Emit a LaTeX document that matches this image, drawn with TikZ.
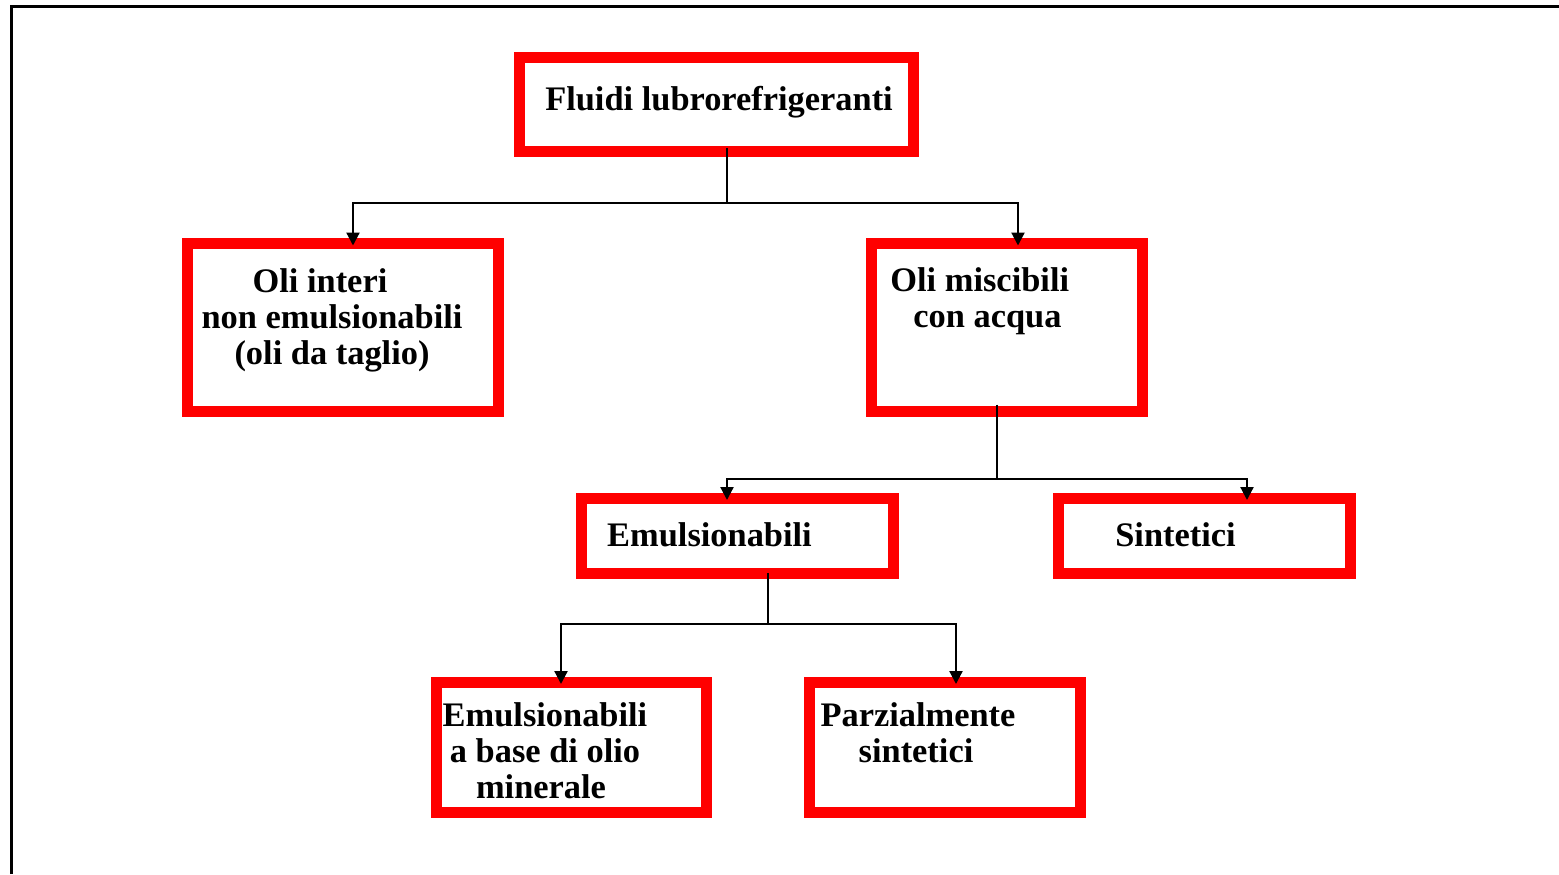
\documentclass[tikz,border=0pt]{standalone}
\usepackage{fontspec}
\setmainfont{Liberation Serif}
\usetikzlibrary{arrows.meta}
\begin{document}
\begin{tikzpicture}[x=0.5pt,y=-0.5pt,
  box/.style={draw=red,line width=5.5pt,outer sep=0pt,inner sep=0pt},
  lbl/.style={font=\bfseries\fontsize{17.2}{18}\selectfont,align=center,inner sep=0pt},
  conn/.style={line width=1.1pt,black},
  arr/.style={conn,-{Triangle[length=6.5pt,width=6.5pt]}}]
\useasboundingbox (0,0) rectangle (1559,874);
% frame
\draw[line width=1.8pt] (11.5,874) -- (11.5,6.5) -- (1559,6.5);
% boxes
\node[box,minimum width=197.25pt,minimum height=47pt] (top) at (716.5,104) {};
\node[box,minimum width=155.5pt,minimum height=84pt] (oi) at (343,327.5) {};
\node[box,minimum width=135.5pt,minimum height=84pt] (om) at (1006.5,327.5) {};
\node[box,minimum width=156pt,minimum height=37.5pt] (em) at (737.5,535.5) {};
\node[box,minimum width=146pt,minimum height=37.5pt] (si) at (1204,535.5) {};
\node[box,minimum width=135pt,minimum height=65pt] (eb) at (571,747) {};
\node[box,minimum width=135.5pt,minimum height=65pt] (pz) at (944.5,747) {};
% texts
\node[lbl] (tTop) at (719,102) {Fluidi lubrorefrigeranti};
\node[lbl] (tOi) at (332,320) {Oli interi\hspace*{12pt}\\ non emulsionabili\\ (oli da taglio)};
\node[lbl,align=left,anchor=west] (tOm) at (890,301) {Oli miscibili\\ \hspace*{11.5pt}con acqua};
\node[lbl] (tEm) at (709.5,535) {Emulsionabili};
\node[lbl] (tSi) at (1175.5,535) {Sintetici};
\node[lbl] (tEb) at (545,751) {Emulsionabili\\ a base di olio\\ minerale\hspace*{4pt}};
\node[lbl] (tPz) at (918,733) {Parzialmente\\ sintetici\hspace*{2pt}};
% connectors
\coordinate (j1) at (727,203);
\coordinate (j2) at (997,479);
\coordinate (j3) at (768,624);
\draw[conn] ([xshift=5.25pt,yshift=1.5pt]top.south) -- (j1);
\draw[arr] (j1) -| ([xshift=5pt,yshift=-1pt]oi.north);
\draw[arr] (j1) -| ([xshift=5.75pt,yshift=-1pt]om.north);
\draw[conn] ([xshift=-4.75pt,yshift=3.5pt]om.south) -- (j2);
\draw[arr] (j2) -| ([xshift=-5.25pt,yshift=-1pt]em.north);
\draw[arr] (j2) -| ([xshift=21.5pt,yshift=-1pt]si.north);
\draw[conn] ([xshift=15.25pt]em.south) -- (j3);
\draw[arr] (j3) -| ([xshift=-5pt,yshift=-1pt]eb.north);
\draw[arr] (j3) -| ([xshift=5.75pt,yshift=-1pt]pz.north);
\end{tikzpicture}
\end{document}
